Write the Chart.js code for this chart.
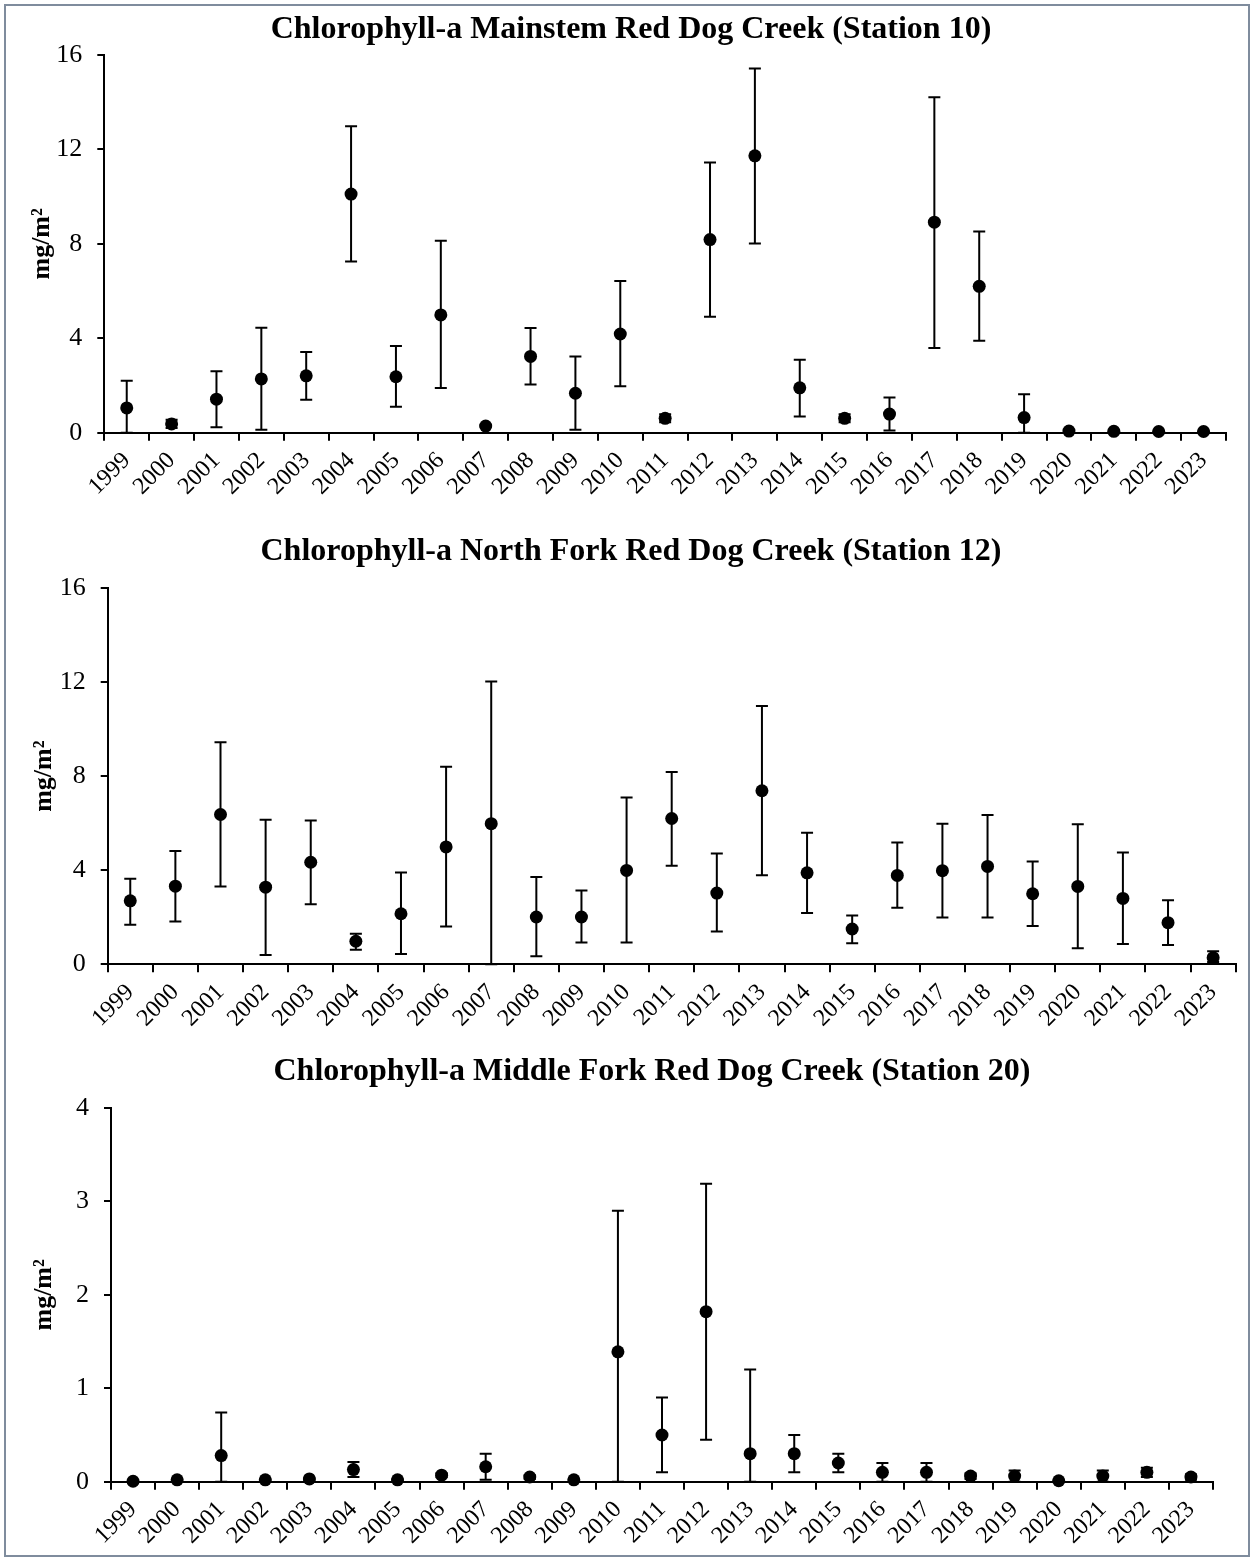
<!DOCTYPE html>
<html>
<head>
<meta charset="utf-8">
<script src="https://cdn.jsdelivr.net/npm/chart.js@4.4.1/dist/chart.umd.min.js"></script>
<style>
  html, body { margin: 0; padding: 0; background: #fff; }
  #page { position: relative; width: 1253px; height: 1561px; overflow: hidden; }
  #frame { position: absolute; left: 4px; top: 4px; width: 1246px; height: 1553px; box-sizing: border-box; border: 2px solid #7f8c9d; }
  canvas { position: absolute; left: 0; }
</style>
</head>
<body>
<div id="page">
  <div id="frame"></div>
  <canvas id="st10" width="1253" height="518" style="top:0px"></canvas>
  <canvas id="st12" width="1253" height="518" style="top:518px"></canvas>
  <canvas id="st20" width="1253" height="525" style="top:1036px"></canvas>
</div>
<script>
const SERIF = '"Liberation Serif", "Times New Roman", Times, serif';

const years = ['1999', '2000', '2001', '2002', '2003', '2004', '2005', '2006', '2007', '2008',
  '2009', '2010', '2011', '2012', '2013', '2014', '2015', '2016', '2017', '2018',
  '2019', '2020', '2021', '2022', '2023'];

// Station 10 - Mainstem
const st10Mean = [1.05, 0.37, 1.42, 2.28, 2.41, 10.11, 2.37, 4.99, 0.28, 3.23, 1.67, 4.18, 0.61,
  8.18, 11.73, 1.90, 0.61, 0.79, 8.92, 6.20, 0.64, 0.07, 0.06, 0.05, 0.05];
const st10Low = [0, 0.20, 0.23, 0.13, 1.40, 7.25, 1.10, 1.89, 0.25, 2.04, 0.13, 1.97, 0.44,
  4.91, 8.01, 0.69, 0.44, 0.09, 3.59, 3.89, 0, 0.05, 0.04, 0.04, 0.04];
const st10High = [2.20, 0.55, 2.60, 4.45, 3.42, 12.98, 3.67, 8.13, 0.31, 4.44, 3.23, 6.43, 0.78,
  11.45, 15.43, 3.09, 0.78, 1.49, 14.21, 8.52, 1.63, 0.09, 0.08, 0.06, 0.06];

// Station 12 - North Fork
const st12Mean = [2.70, 3.32, 6.37, 3.28, 4.34, 0.98, 2.15, 4.99, 5.98, 2.01, 2.01, 3.99, 6.20,
  3.03, 7.38, 3.89, 1.50, 3.78, 3.98, 4.16, 3.00, 3.31, 2.80, 1.77, 0.28];
const st12Low = [1.68, 1.82, 3.31, 0.40, 2.55, 0.62, 0.44, 1.61, 0, 0.34, 0.93, 0.93, 4.19,
  1.39, 3.79, 2.18, 0.89, 2.40, 1.99, 1.99, 1.63, 0.68, 0.86, 0.82, 0.10];
const st12High = [3.64, 4.82, 9.44, 6.15, 6.11, 1.30, 3.90, 8.40, 12.02, 3.71, 3.14, 7.09, 8.18,
  4.71, 10.98, 5.59, 2.07, 5.18, 5.98, 6.35, 4.37, 5.96, 4.75, 2.72, 0.55];

// Station 20 - Middle Fork
const st20Mean = [0.005, 0.02, 0.28, 0.02, 0.03, 0.13, 0.02, 0.07, 0.16, 0.05, 0.02, 1.39, 0.50,
  1.82, 0.30, 0.30, 0.20, 0.10, 0.10, 0.06, 0.06, 0.01, 0.06, 0.10, 0.05];
const st20Low = [0, 0.01, 0, 0.01, 0.02, 0.05, 0.01, 0.05, 0.02, 0.03, 0.01, 0, 0.10,
  0.45, 0, 0.10, 0.10, 0, 0, 0.03, 0, 0.005, 0, 0.05, 0.02];
const st20High = [0.01, 0.03, 0.74, 0.03, 0.04, 0.21, 0.03, 0.09, 0.30, 0.07, 0.03, 2.90, 0.90,
  3.19, 1.20, 0.50, 0.30, 0.20, 0.20, 0.09, 0.12, 0.02, 0.12, 0.15, 0.08];

// draws vertical error bars with caps from errLow/errHigh of the dataset
const errorBars = {
    id: 'errorBars',
    beforeDatasetsDraw(chart) {
        const { ctx, scales: { y } } = chart;
        const ds = chart.data.datasets[0];
        const meta = chart.getDatasetMeta(0);
        ctx.save();
        ctx.strokeStyle = '#000';
        ctx.lineWidth = 2;
        meta.data.forEach((pt, i) => {
            const px = pt.x;
            const yl = y.getPixelForValue(ds.errLow[i]);
            const yh = y.getPixelForValue(ds.errHigh[i]);
            ctx.beginPath();
            ctx.moveTo(px, yl);
            ctx.lineTo(px, yh);
            ctx.moveTo(px - 6, yh);
            ctx.lineTo(px + 6, yh);
            ctx.moveTo(px - 6, yl);
            ctx.lineTo(px + 6, yl);
            ctx.stroke();
        });
        ctx.restore();
    }
};

// the layout padding is only there to centre the title; let the y labels use the whole left margin
const labelRoom = {
    id: 'labelRoom',
    afterLayout(chart) { chart.scales.y.left = 0; }
};

function makePanel(id, title, mean, low, high, yMax, yStep, box) {
    return new Chart(document.getElementById(id), {
        type: 'line',
        data: {
            labels: years,
            datasets: [{
                data: mean,
                errLow: low,
                errHigh: high,
                showLine: false,
                clip: false,
                pointRadius: 6.5,
                pointHoverRadius: 6.5,
                pointBackgroundColor: '#000',
                pointBorderWidth: 0,
            }]
        },
        options: {
            responsive: false,
            animation: false,
            layout: { padding: { left: box.padLeft, right: box.padRight, top: 0, bottom: 0 } },
            plugins: {
                legend: { display: false },
                tooltip: { enabled: false },
                title: {
                    display: true,
                    text: title,
                    color: '#000',
                    font: { family: SERIF, size: 32, weight: 'bold' },
                    padding: { top: box.titleTop, bottom: box.titleBottom }
                }
            },
            scales: {
                x: {
                    offset: true,
                    grid: { display: true, offset: true, drawOnChartArea: false, drawTicks: true, tickLength: 8, color: '#000', lineWidth: 2 },
                    border: { display: true, color: '#000', width: 2 },
                    ticks: { color: '#000', font: { family: SERIF, size: 24 }, minRotation: 45, maxRotation: 45, autoSkip: false, padding: 6 },
                    afterFit: (s) => { s.height = box.xHeight; }
                },
                y: {
                    min: 0,
                    max: yMax,
                    ticks: { stepSize: yStep, color: '#000', font: { family: SERIF, size: 26 }, padding: 15 },
                    grid: { display: true, drawOnChartArea: false, drawTicks: true, tickLength: 7, color: '#000', lineWidth: 2 },
                    border: { display: true, color: '#000', width: 2 },
                    title: {
                        display: true,
                        text: 'mg/m²',
                        color: '#000',
                        font: { family: SERIF, size: 26, weight: 'bold' },
                        padding: { top: box.yTitlePad, bottom: 0 }
                    },
                    afterFit: (s) => { s.width = box.yWidth; }
                }
            }
        },
        plugins: [errorBars, labelRoom]
    });
}

makePanel('st10', 'Chlorophyll-a Mainstem Red Dog Creek (Station 10)', st10Mean, st10Low, st10High, 16, 4,
    { padLeft: 36, padRight: 27, titleTop: 10.8, titleBottom: 5.8, xHeight: 85.3, yWidth: 68.3, yTitlePad: 26.4 });
makePanel('st12', 'Chlorophyll-a North Fork Red Dog Creek (Station 12)', st12Mean, st12Low, st12High, 16, 4,
    { padLeft: 26.3, padRight: 17.3, titleTop: 14.8, titleBottom: 16.8, xHeight: 71.7, yWidth: 81.4, yTitlePad: 28.4 });
makePanel('st20', 'Chlorophyll-a Middle Fork Red Dog Creek (Station 20)', st20Mean, st20Low, st20High, 4, 1,
    { padLeft: 91, padRight: 40, titleTop: 16.3, titleBottom: 17.3, xHeight: 79.3, yWidth: 20, yTitlePad: 28.4 });
</script>
</body>
</html>
